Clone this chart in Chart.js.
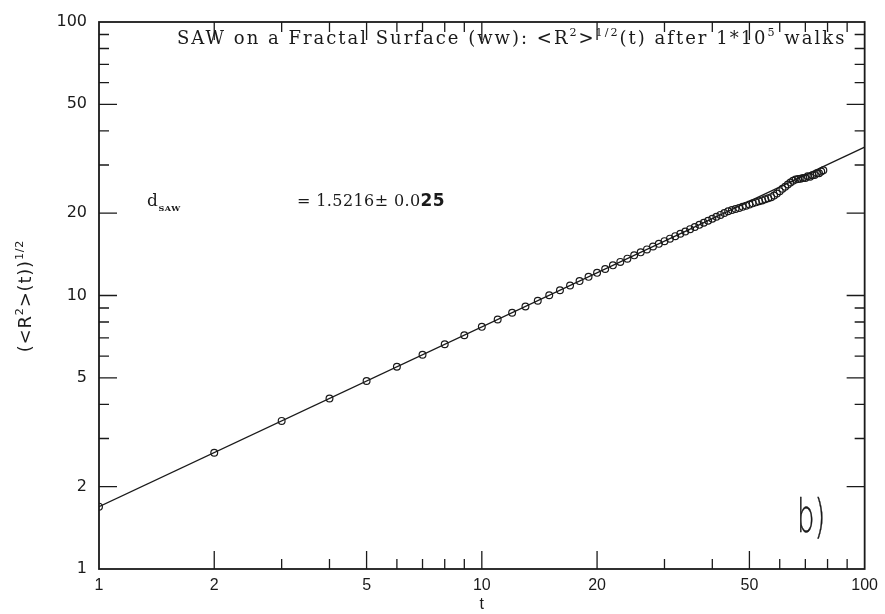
<!DOCTYPE html>
<html>
<head>
<meta charset="utf-8">
<script src="https://cdn.jsdelivr.net/npm/chart.js@4/dist/chart.umd.min.js"></script>
<style>
  html, body { margin: 0; padding: 0; background: #ffffff; }
  canvas { display: block; }
</style>
</head>
<body>
<canvas id="chart" width="885" height="614"></canvas>
<script>
// Walk length t and measured end-to-end distance <R^2>^(1/2)(t)
const tValues = [
  1, 2, 3, 4, 5, 6, 7, 8, 9, 10,
  11, 12, 13, 14, 15, 16, 17, 18, 19, 20,
  21, 22, 23, 24, 25, 26, 27, 28, 29, 30,
  31, 32, 33, 34, 35, 36, 37, 38, 39, 40,
  41, 42, 43, 44, 45, 46, 47, 48, 49, 50,
  51, 52, 53, 54, 55, 56, 57, 58, 59, 60,
  61, 62, 63, 64, 65, 66, 67, 68, 69, 70,
  71, 72, 73, 74, 75, 76, 77, 78
];
const rmsValues = [
  1.69, 2.66, 3.48, 4.20, 4.87, 5.49, 6.07, 6.63, 7.16, 7.68,
  8.17, 8.65, 9.12, 9.57, 10.02, 10.45, 10.88, 11.29, 11.70, 12.10,
  12.50, 12.89, 13.27, 13.64, 14.02, 14.38, 14.74, 15.10, 15.45, 15.80,
  16.14, 16.48, 16.82, 17.15, 17.48, 17.81, 18.13, 18.45, 18.77, 19.09,
  19.40, 19.71, 20.02, 20.32, 20.53, 20.72, 20.90, 21.09, 21.31, 21.51,
  21.72, 21.91, 22.10, 22.27, 22.47, 22.67, 22.89, 23.20, 23.61, 24.07,
  24.54, 25.00, 25.47, 25.90, 26.26, 26.53, 26.66, 26.73, 26.91, 26.88,
  27.27, 27.19, 27.55, 27.60, 27.98, 27.99, 28.41, 28.72
];

// Power-law fit drawn across the full t range
const fitT = [1, 100];
const fitR = [1.69, 34.9];

// Axis ticks (same decades on both axes)
const majorTicks = [1, 2, 5, 10, 20, 50, 100];
const minorTicks = [3, 4, 6, 7, 8, 9, 30, 40, 60, 70, 80, 90];

const INK = '#1a1a1a';

const walkPoints = tValues.map((t, i) => ({ x: t, y: rmsValues[i] }));
const fitPoints = fitT.map((t, i) => ({ x: t, y: fitR[i] }));

// Draw a run of text pieces with optional superscript / subscript parts
function drawRich(ctx, parts, x, y, family, size) {
  let cx = x;
  for (const p of parts) {
    const s = p.size || (p.sup || p.sub ? size * 0.62 : size);
    ctx.font = (p.weight ? p.weight + ' ' : '') + s + 'px ' + (p.family || family);
    const dy = p.sup ? -size * 0.45 : (p.sub ? size * 0.28 : 0);
    ctx.fillText(p.text, cx, y + dy);
    cx += ctx.measureText(p.text).width;
  }
  return cx - x;
}

function measureRich(ctx, parts, family, size) {
  let w = 0;
  for (const p of parts) {
    const s = p.size || (p.sup || p.sub ? size * 0.62 : size);
    ctx.font = (p.weight ? p.weight + ' ' : '') + s + 'px ' + (p.family || family);
    w += ctx.measureText(p.text).width;
  }
  return w;
}

// Frame around the plot with inward ticks on all four sides
const frameTicks = {
  id: 'frameTicks',
  afterDatasetsDraw(chart) {
    const { ctx, chartArea: { left, right, top, bottom }, scales: { x, y } } = chart;
    ctx.save();
    ctx.strokeStyle = INK;
    ctx.lineWidth = 1.8;
    ctx.strokeRect(left, top, right - left, bottom - top);
    ctx.lineWidth = 1.3;
    const major = 18, minor = 10;
    ctx.beginPath();
    const tickSet = majorTicks.map(v => [v, major]).concat(minorTicks.map(v => [v, minor]));
    for (const [v, len] of tickSet) {
      const px = x.getPixelForValue(v);
      if (px > left + 1 && px < right - 1) {
        ctx.moveTo(px, bottom); ctx.lineTo(px, bottom - len);
        ctx.moveTo(px, top); ctx.lineTo(px, top + len);
      }
      const py = y.getPixelForValue(v);
      if (py > top + 1 && py < bottom - 1) {
        ctx.moveTo(left, py); ctx.lineTo(left + len, py);
        ctx.moveTo(right, py); ctx.lineTo(right - len, py);
      }
    }
    ctx.stroke();
    ctx.restore();
  }
};

// Caption texts, rotated y-axis title and the panel mark
const annotations = {
  id: 'annotations',
  afterDraw(chart) {
    const ctx = chart.ctx;
    ctx.save();
    ctx.fillStyle = INK;
    ctx.textBaseline = 'alphabetic';
    ctx.textAlign = 'left';

    const serif = '"DejaVu Serif", "Liberation Serif", serif';
    ctx.letterSpacing = '2px';
    drawRich(ctx, [
      { text: 'SAW on a Fractal Surface (ww): <R' },
      { text: '2', sup: true },
      { text: '>' },
      { text: '1/2', sup: true },
      { text: '(t) after 1*10' },
      { text: '5', sup: true },
      { text: ' walks' }
    ], 177, 44, serif, 18);

    ctx.letterSpacing = '0.6px';
    drawRich(ctx, [
      { text: 'd' },
      { text: 'SAW', sub: true, size: 8, weight: 'bold' }
    ], 147, 206, serif, 17);

    ctx.letterSpacing = '0.4px';
    drawRich(ctx, [
      { text: '= 1.5216\u00b1 0.0' },
      { text: '25', weight: 'bold', family: '"DejaVu Sans", sans-serif', size: 17 }
    ], 297, 206, serif, 16);
    ctx.letterSpacing = '0px';

    // y-axis title
    const yTitle = [
      { text: '(<R' },
      { text: '2', sup: true },
      { text: '>(t))' },
      { text: '1/2', sup: true }
    ];
    const sans = '"DejaVu Sans", sans-serif';
    ctx.letterSpacing = '0.8px';
    const w = measureRich(ctx, yTitle, sans, 18);
    ctx.translate(31, 296);
    ctx.rotate(-Math.PI / 2);
    drawRich(ctx, yTitle, -w / 2, 0, sans, 18);
    ctx.setTransform(1, 0, 0, 1, 0, 0);
    ctx.letterSpacing = '0px';

    // panel mark, narrow pen-like lettering
    ctx.translate(797, 532);
    ctx.scale(0.6, 1);
    ctx.font = '200 46px "DejaVu Sans", sans-serif';
    ctx.strokeStyle = INK;
    ctx.lineWidth = 0.5;
    ctx.fillText('b)', 0, 0);
    ctx.strokeText('b)', 0, 0);
    ctx.setTransform(1, 0, 0, 1, 0, 0);
    ctx.restore();
  }
};

new Chart(document.getElementById('chart'), {
  type: 'scatter',
  data: {
    datasets: [
      {
        label: 'fit',
        data: fitPoints,
        showLine: true,
        borderColor: INK,
        borderWidth: 1.3,
        pointRadius: 0,
        fill: false,
        order: 2
      },
      {
        label: 'walks',
        data: walkPoints,
        showLine: false,
        pointStyle: 'circle',
        pointRadius: 3.4,
        pointBorderWidth: 1.2,
        pointBorderColor: INK,
        pointBackgroundColor: 'rgba(255,255,255,0)',
        order: 1
      }
    ]
  },
  options: {
    responsive: false,
    animation: false,
    devicePixelRatio: 1,
    layout: { padding: { top: 22, right: 18, left: 0, bottom: 0 } },
    plugins: {
      legend: { display: false },
      tooltip: { enabled: false }
    },
    scales: {
      x: {
        type: 'logarithmic',
        min: 1,
        max: 100,
        grid: { display: false, drawTicks: false },
        border: { display: false },
        afterBuildTicks: (scale) => { scale.ticks = majorTicks.map(v => ({ value: v })); },
        afterFit: (scale) => { scale.height = 45; },
        ticks: {
          autoSkip: false,
          maxRotation: 0,
          padding: 7,
          color: INK,
          font: { family: '"Liberation Sans", Arial, sans-serif', size: 16 },
          callback: (v) => String(v)
        },
        title: {
          display: true,
          text: 't',
          color: INK,
          font: { family: '"Liberation Sans", Arial, sans-serif', size: 16 },
          padding: { top: 0, bottom: 0 }
        }
      },
      y: {
        type: 'logarithmic',
        min: 1,
        max: 100,
        grid: { display: false, drawTicks: false },
        border: { display: false },
        afterBuildTicks: (scale) => { scale.ticks = majorTicks.map(v => ({ value: v })); },
        afterFit: (scale) => { scale.width = 99; },
        ticks: {
          autoSkip: false,
          padding: 12,
          color: INK,
          font: { family: '"DejaVu Sans", sans-serif', size: 16 },
          callback: (v) => String(v)
        }
      }
    }
  },
  plugins: [frameTicks, annotations]
});
</script>
</body>
</html>
